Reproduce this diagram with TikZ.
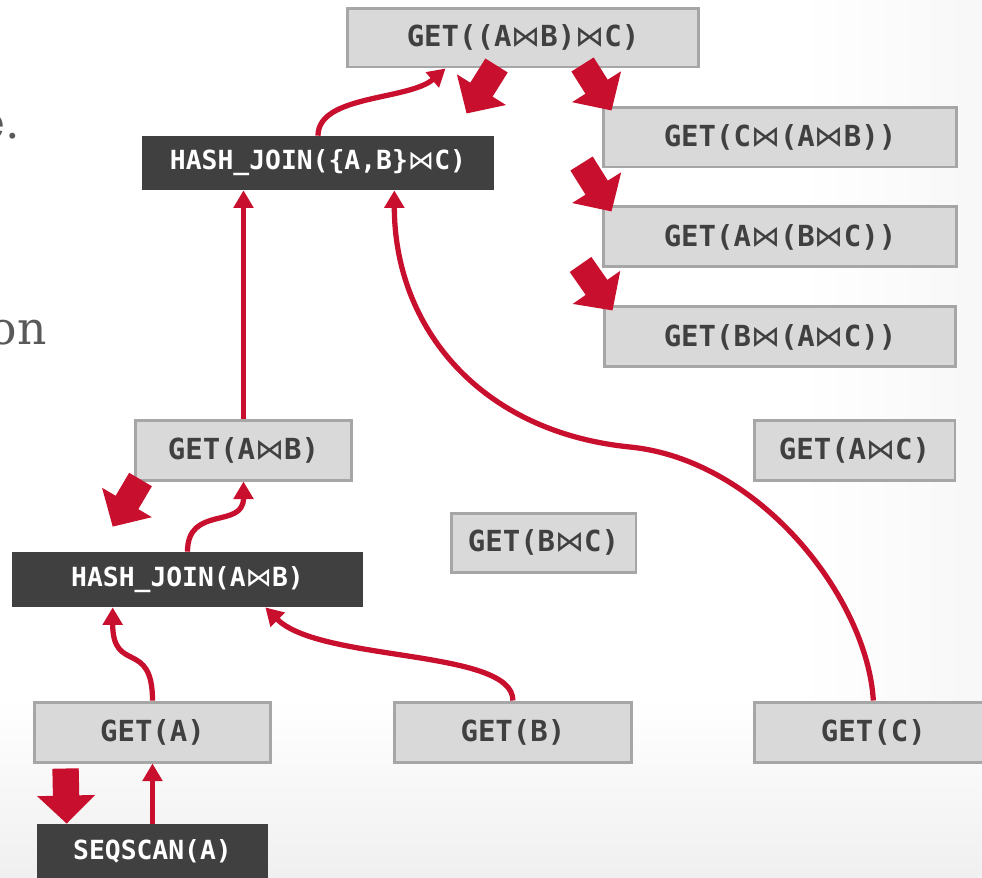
\documentclass[tikz,border=0pt]{standalone}
\usepackage{fontspec}
\setmonofont{DejaVu Sans Mono}
\newfontfamily\bowfont{DejaVu Sans}
\newfontfamily\slidefont{DejaVu Serif}
\usetikzlibrary{positioning, arrows.meta, calc}
\definecolor{cmured}{HTML}{C8102E}
\definecolor{boxgray}{HTML}{D9D9D9}
\definecolor{linegray}{HTML}{A6A6A6}
\definecolor{opdark}{HTML}{404040}
\definecolor{textgray}{HTML}{595959}
\newcommand{\joinop}{{\bowfont\mdseries ⋈}}
\tikzset{
	getbox/.style={draw=linegray, fill=boxgray, line width=1.7pt, text=opdark, inner sep=0pt,
		font=\ttfamily\bfseries\fontsize{16.5}{19}\selectfont, minimum height=1.2cm},
	joinbox/.style={fill=opdark, text=white, inner sep=0pt,
		font=\ttfamily\bfseries\fontsize{15}{18}\selectfont, minimum height=1.1cm},
	link/.style={draw=cmured, line width=3pt, -{Triangle[width=11pt,length=10pt]}},
	xform/.style={draw=cmured, line width=15pt, -{Triangle[width=32pt,length=16pt]}},
	slidetext/.style={anchor=base east, inner sep=0pt, text=textgray, font=\slidefont\fontsize{26}{31}\selectfont}
}
\begin{document}
\begin{tikzpicture}[x=0.02cm, y=-0.02cm]
		\useasboundingbox (0,0) rectangle (982,877);
		\shade[top color=white, bottom color=black!6] (0,700) rectangle (982,877);
		\shade[left color=white, right color=black!3] (800,0) rectangle (982,700);

		\node[slidetext] (frage) at (20,138) {e.};
		\node[slidetext] (fragon) at (47,344) {on};

		\node[getbox, minimum width=7.04cm, minimum height=1.18cm] (top) at (523,37.5) {GET((A\joinop B)\joinop C)};
		\node[joinbox, minimum width=7.04cm, minimum height=1.08cm] (hj2) at (318,163) {HASH\_JOIN(\{A,B\}\joinop C)};
		\node[getbox, minimum width=7.08cm] (cab) at (780,137) {GET(C\joinop(A\joinop B))};
		\node[getbox, minimum width=7.08cm, below=0.74cm of cab] (abc) {GET(A\joinop(B\joinop C))};
		\node[getbox, minimum width=7.04cm, below=0.74cm of abc] (bac) {GET(B\joinop(A\joinop C))};
		\node[getbox, minimum width=4.34cm] (gab) at (243.5,450) {GET(A\joinop B)};
		\node[getbox, minimum width=4.02cm] (gac) at (854.5,450) {GET(A\joinop C)};
		\node[getbox, minimum width=3.7cm, minimum height=1.18cm] (gbc) at (543.5,542.5) {GET(B\joinop C)};
		\node[joinbox, minimum width=7.02cm] (hj1) at (187.5,579.5) {HASH\_JOIN(A\joinop B)};
		\node[getbox, minimum width=4.74cm] (ga) at (152.5,732) {GET(A)};
		\node[getbox, minimum width=4.74cm, right=2.41cm of ga] (gb) {GET(B)};
		\node[getbox, minimum width=4.74cm, right=2.41cm of gb] (gc) {GET(C)};
		\node[joinbox, minimum width=4.62cm] (sq) at (152.5,851.5) {SEQSCAN(A)};
		\coordinate (bend) at (630,447);

		\draw[link] (sq.north) -- (ga.south);
		\draw[link] (ga.north) .. controls +(0,-62) and +(0,67) .. ($(hj1.south west)+(101,0)$);
		\draw[link] (gb.north) .. controls +(0,-52) and +(55,55) .. ($(hj1.south east)+(-98,0)$);
		\draw[link] (hj1.north) .. controls +(0,-47) and +(0,48) .. (gab.south);
		\draw[link] (gab.north) -- (gab.north |- hj2.south);
		\draw[link] (gc.north) .. controls +(-6,-102) and +(130,13) .. (bend)
				.. controls +(-150,-15) and +(0,137) .. ($(hj2.south east)+(-100,0)$);
		\draw[link] (hj2.north) .. controls +(0,-41) and +(-37,32) .. ($(top.south west)+(100,0)$);

		\draw[xform] ($(top.south west)+(151,-3)$) -- ($(top.south west)+(121,45)$);
		\draw[xform] ($(top.south west)+(237,-4)$) -- ($(cab.north west)+(10,5)$);
		\draw[xform] ($(cab.south west)+(-20,-5)$) -- ($(abc.north west)+(10,6)$);
		\draw[xform] ($(abc.south west)+(-21,-4)$) -- ($(bac.north west)+(10,5)$);
		\draw[xform] ($(gab.south west)+(7,-2)$) -- ($(hj1.north west)+(101,-25)$);
		\draw[xform] ($(ga.south west)+(33,5)$) -- ($(sq.north west)+(30,0)$);
\end{tikzpicture}
\end{document}
